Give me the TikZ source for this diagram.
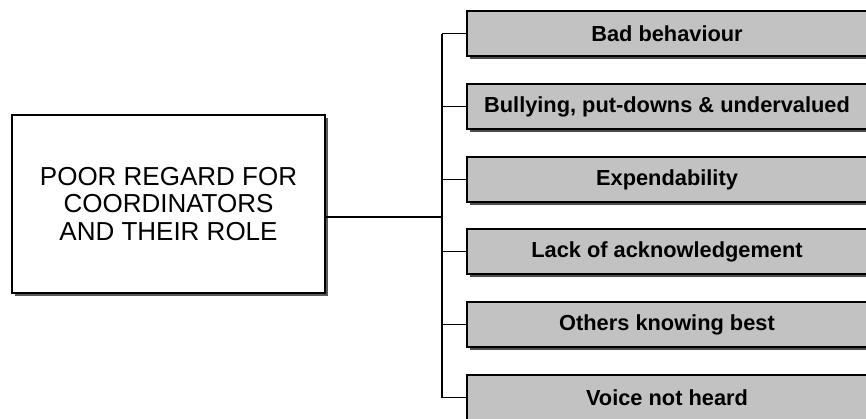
\documentclass[tikz,border=0pt]{standalone}
\usepackage{fontspec}
\setmainfont{Liberation Sans}
\usetikzlibrary{shadows}
\begin{document}
\begin{tikzpicture}[x=1pt,y=-1pt,
  mainbox/.style={draw=black, line width=1.3pt, fill=white, minimum width=313pt, minimum height=178pt,
    inner sep=0pt, align=center, font=\fontsize{26}{27.5}\selectfont,
    drop shadow={shadow xshift=3pt, shadow yshift=-3pt, fill=black!65, opacity=1}},
  itembox/.style={draw=black, line width=1.3pt, fill=black!24, minimum width=400pt, minimum height=45pt,
    inner sep=0pt, font=\fontsize{21.8}{24}\selectfont\bfseries,
    drop shadow={shadow xshift=2.5pt, shadow yshift=-3pt, fill=black!70, opacity=1}},
  link/.style={draw=black, line width=1.2pt}]
\useasboundingbox (0,0) rectangle (866,418);
\clip (0,0) rectangle (866,418);
\node[mainbox] (main) at (168.5,204) {POOR REGARD FOR\\COORDINATORS\\AND THEIR ROLE};
\node[itembox] (b1) at (667,33.5) {Bad behaviour};
\node[itembox] (b2) at (667,106.5) {Bullying, put-downs \& undervalued};
\node[itembox] (b3) at (667,179.5) {Expendability};
\node[itembox] (b4) at (667,251.5) {Lack of acknowledgement};
\node[itembox] (b5) at (667,324.5) {Others knowing best};
\node[itembox] (b6) at (667,397.5) {Voice not heard};
\coordinate (j) at (442,217);
\draw[link] (main.east |- j) -- (j);
\draw[link] (j |- b1.west) -- (j |- b6.west);
\foreach \b in {b1,b2,b3,b4,b5,b6} \draw[link] (j |- \b.west) -- (\b.west);
\end{tikzpicture}
\end{document}
